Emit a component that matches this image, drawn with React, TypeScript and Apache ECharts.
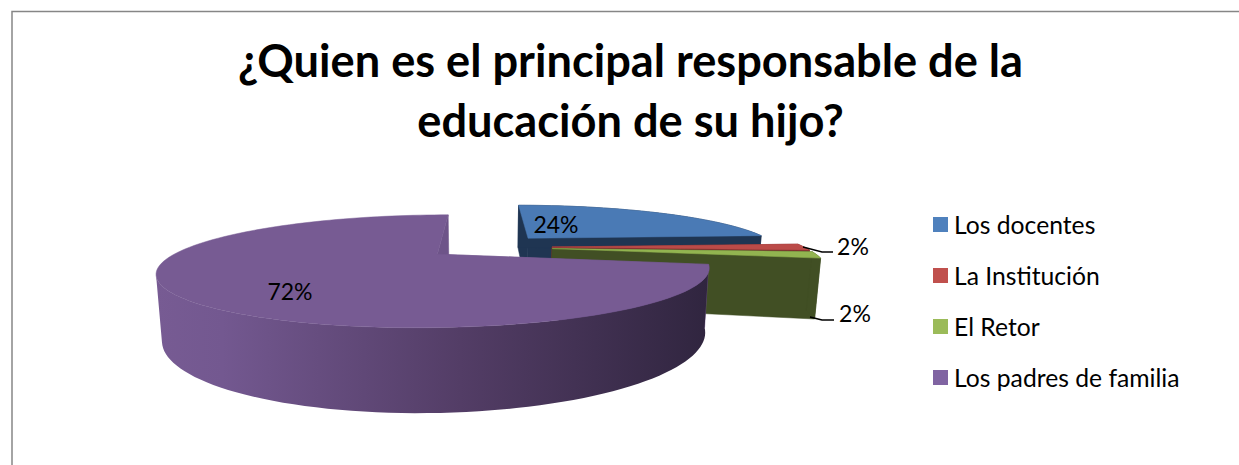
import React, { useEffect, useRef } from "react";
import * as echarts from "echarts";

const titleLines = ["¿Quien es el principal responsable de la", "educación de su hijo?"];
const categories = ["Los docentes", "La Institución", "El Retor", "Los padres de familia"];
const values = [24, 2, 2, 72];

const legendColors = ["#4F81BD", "#C0504D", "#9BBB59", "#8064A2"];
const topColors = ["#4A7AB5", "#BB4B48", "#92B450", "#775B93"];
const wallColors = ["#1F3552", "#7A2F2D", "#414F24", "#6E5489"];
const explosions = [0.27, 0.27, 0.27, 0.23];
const labelBoxes: [number, number][] = [[556, 224], [853, 246], [855, 313], [290, 291]];
const leaders: ([number, number][] | null)[] = [
  null,
  [[803, 247], [822, 252], [833, 252]],
  [[810, 317], [822, 320], [834, 320]],
  null,
];

// Perspective projection of the pie's plane
const X0 = 484, Y0 = 247, A = 252, B = 47, K = 0.29, H = 57, BOTTOM_SCALE = 0.982;
const FONT = "Lato, Carlito, Calibri, sans-serif";

const total = values.reduce((s, v) => s + v, 0);
const rad = (d: number) => (d * Math.PI) / 180;

function project(u: number, v: number) {
  const d = 1 - K * v;
  const x = X0 + (A * u) / d;
  const y = Y0 + (B * v) / d;
  return { top: [x, y] as [number, number], bottom: [X0 + (x - X0) * BOTTOM_SCALE, y + H / d] as [number, number] };
}

function renderSlice(index: number, api: any) {
  const value = api.value(0);
  let before = 0;
  for (let i = 0; i < index; i++) before += values[i];
  const a0 = (before / total) * 360;
  const a1 = a0 + (value / total) * 360;
  const mid = rad((a0 + a1) / 2);
  const e = explosions[index];
  const ox = e * Math.sin(mid);
  const oy = -e * Math.cos(mid);
  const at = (deg: number) => project(ox + Math.sin(rad(deg)), oy - Math.cos(rad(deg)));
  const apex = project(ox, oy);

  const steps = Math.max(4, Math.round((a1 - a0) / 2));
  const arc: number[] = [];
  for (let i = 0; i <= steps; i++) arc.push(a0 + ((a1 - a0) * i) / steps);

  const children: any[] = [];
  const poly = (points: number[][], fill: any, stroke?: string) => ({
    type: "polygon",
    shape: { points },
    style: { fill, stroke: stroke ?? "none", lineWidth: stroke ? 0.5 : 0 },
    silent: true,
  });

  const wall = wallColors[index];
  const quad = (deg: number) => [apex.top, at(deg).top, at(deg).bottom, apex.bottom];
  children.push(poly(quad(a0), wall, wall));
  children.push(poly(quad(a1), wall, wall));

  if (index === 3) {
    // Visible outer wall: from the slice's right end to the silhouette's left edge on each rim.
    const leftmost = (pick: "top" | "bottom") =>
      arc.reduce((best, d) => (at(d)[pick][0] < at(best)[pick][0] ? d : best), arc[0]);
    const topEnd = leftmost("top");
    const bottomEnd = leftmost("bottom");
    const rim = [
      ...arc.filter((d) => d <= topEnd).map((d) => at(d).top),
      ...arc.filter((d) => d <= bottomEnd).reverse().map((d) => at(d).bottom),
    ];
    const grad = new echarts.graphic.LinearGradient(0, 0, 1, 0, [
      { offset: 0, color: "#775B93" },
      { offset: 0.12, color: "#735890" },
      { offset: 0.55, color: "#533D66" },
      { offset: 1, color: "#30253F" },
    ]);
    children.push(poly(rim, grad));
  } else {
    const rim = [...arc.map((d) => at(d).top), ...arc.slice().reverse().map((d) => at(d).bottom)];
    children.push(poly(rim, wall, wall));
  }

  const top = [apex.top, ...arc.map((d) => at(d).top)];
  children.push(poly(top, topColors[index], topColors[index]));

  const leader = leaders[index];
  if (leader) {
    children.push({
      type: "polyline",
      shape: { points: leader },
      style: { stroke: "#000", lineWidth: 1.3, fill: "none" },
      silent: true,
    });
  }
  const [lx, ly] = labelBoxes[index];
  children.push({
    type: "text",
    x: lx,
    y: ly,
    silent: true,
    style: {
      text: `${Math.round((value / total) * 100)}%`,
      fontSize: 23,
      fontFamily: FONT,
      fill: "#000",
      align: "center",
      verticalAlign: "middle",
    },
  });
  return { type: "group", children };
}

export default function App() {
  const ref = useRef<HTMLDivElement>(null);
  useEffect(() => {
    document.body.style.margin = "0";
    document.body.style.overflow = "hidden";
    const chart = echarts.init(ref.current!, null, { renderer: "svg" });
    chart.setOption({
      animation: false,
      backgroundColor: "#fff",
      title: {
        text: titleLines.join("\n"),
        left: 625.5,
        top: 24,
        textAlign: "center",
        textStyle: { fontFamily: FONT, fontWeight: "bold", fontSize: 45.2, lineHeight: 60, color: "#000" },
      },
      legend: {
        orient: "vertical",
        left: 933,
        top: 212,
        padding: 0,
        icon: "rect",
        itemWidth: 15,
        itemHeight: 15,
        itemGap: 26,
        selectedMode: false,
        data: categories,
        textStyle: { fontFamily: FONT, fontSize: 24.7, color: "#000", lineHeight: 24, padding: [0, 0, 0, 1], height: 24 },
      },
      graphic: [
        {
          type: "polyline",
          silent: true,
          shape: { points: [[1240, 11.5], [12, 11.5], [12, 466]] },
          style: { stroke: "#868686", lineWidth: 1.5, fill: "none" },
        },
      ],
      series: categories.map((name, index) => ({
        type: "custom",
        name,
        coordinateSystem: "none",
        itemStyle: { color: legendColors[index] },
        data: [[values[index]]],
        renderItem: (_p: any, api: any) => renderSlice(index, api),
      })),
    });
    return () => chart.dispose();
  }, []);
  return <div ref={ref} style={{ position: "fixed", left: 0, top: 0, width: 1239, height: 465 }} />;
}
